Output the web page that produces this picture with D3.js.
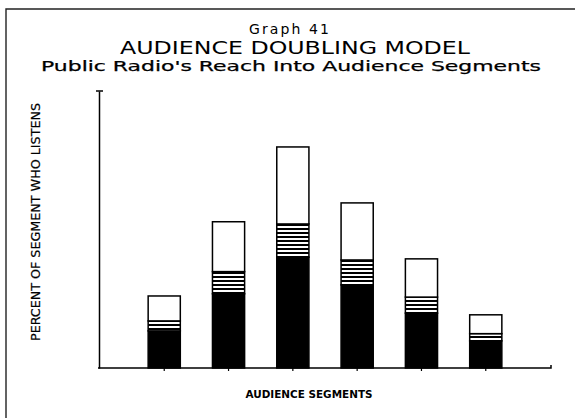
<!DOCTYPE html>
<html><head><meta charset="utf-8">
<script src="https://cdn.jsdelivr.net/npm/d3@7"></script>
<style>body{margin:0;background:#fff}svg{display:block}</style>
</head><body>
<svg id="c" width="575" height="418"></svg>
<script>
// Data (percent of segment; arbitrary scale)
const segments = ["S1","S2","S3","S4","S5","S6"];
const coreListeners = [6.7, 13.4, 20.0, 15.0, 9.9, 4.9];   // solid black
const overlapListeners = [1.8, 4.0, 6.0, 4.5, 2.9, 1.3];   // striped
const doubledListeners = [4.5, 9.0, 13.9, 10.3, 6.9, 3.4]; // white
const seriesKeys = ["core","overlap","doubled"];

const svg = d3.select("#c");
const rows = segments.map((s,i)=>({seg:s, core:coreListeners[i], overlap:overlapListeners[i], doubled:doubledListeners[i]}));
const stack = d3.stack().keys(seriesKeys)(rows);

const x = d3.scaleBand().domain(segments).range([116, 534]).paddingInner(0.5).paddingOuter(0.5);
const y = d3.scaleLinear().domain([0, 50]).range([368, 91]);

// stripe pattern
const defs = svg.append("defs");
const pat = defs.append("pattern").attr("id","stripes").attr("patternUnits","userSpaceOnUse")
  .attr("width",8).attr("height",4);
pat.append("rect").attr("width",8).attr("height",4).attr("fill","#fff");
pat.append("rect").attr("width",8).attr("height",2).attr("fill","#000");

// frame
svg.append("path").attr("d","M6,418 L6,9 L575,9").attr("fill","none").attr("stroke","#222").attr("stroke-width",1.4);

// titles
const tf = "'DejaVu Sans', sans-serif";
svg.append("text").attr("x",289).attr("y",34).attr("text-anchor","middle").attr("font-family",tf)
  .attr("font-size",14).attr("textLength",80).attr("lengthAdjust","spacing").text("Graph 41");
svg.append("text").attr("x",295).attr("y",54).attr("text-anchor","middle").attr("font-family",tf)
  .attr("font-size",17).attr("textLength",350).attr("lengthAdjust","spacingAndGlyphs").text("AUDIENCE DOUBLING MODEL");
svg.append("text").attr("x",291).attr("y",71).attr("text-anchor","middle").attr("font-family",tf)
  .attr("font-size",14).attr("stroke","#000").attr("stroke-width",0.25).attr("textLength",500).attr("lengthAdjust","spacingAndGlyphs")
  .text("Public Radio's Reach Into Audience Segments");

// bars
const colors = {core:"#000", overlap:"url(#stripes)", doubled:"#fff"};
stack.forEach(layer=>{
  svg.append("g").selectAll("rect").data(layer).join("rect")
    .attr("x", d=>x(d.data.seg)).attr("width", x.bandwidth())
    .attr("y", d=>y(d[1])).attr("height", d=>y(d[0])-y(d[1]))
    .attr("fill", colors[layer.key]).attr("stroke","#000").attr("stroke-width",1.5);
});

// axes
const xAxis = d3.axisBottom(x).tickSize(3).tickFormat("");
const gx = svg.append("g").attr("transform","translate(0,368)").call(xAxis);
gx.select(".domain").attr("d","M98,0H551V-3").attr("stroke","#000").attr("stroke-width",1.5).attr("fill","none");
gx.selectAll(".tick line").attr("stroke","#000").attr("stroke-width",1.2);

const yAxis = d3.axisLeft(y).tickValues([]).tickSizeOuter(0);
const gy = svg.append("g").attr("transform","translate(99,0)").call(yAxis);
gy.select(".domain").attr("stroke","#000").attr("stroke-width",1.5);
svg.append("line").attr("x1",96).attr("x2",103).attr("y1",91).attr("y2",91).attr("stroke","#000").attr("stroke-width",1.5);

// axis labels
svg.append("text").attr("transform","translate(40,222) rotate(-90)").attr("text-anchor","middle")
  .attr("font-family","'DejaVu Sans Condensed', 'Liberation Sans Narrow', sans-serif").attr("font-size",12)
  .attr("textLength",238).attr("lengthAdjust","spacingAndGlyphs").attr("stroke","#000").attr("stroke-width",0.2)
  .text("PERCENT OF SEGMENT WHO LISTENS");
svg.append("text").attr("x",309).attr("y",398).attr("text-anchor","middle").attr("font-family",tf)
  .attr("font-size",11).attr("font-weight","bold").attr("textLength",127).attr("lengthAdjust","spacingAndGlyphs")
  .text("AUDIENCE SEGMENTS");
</script>
</body></html>
